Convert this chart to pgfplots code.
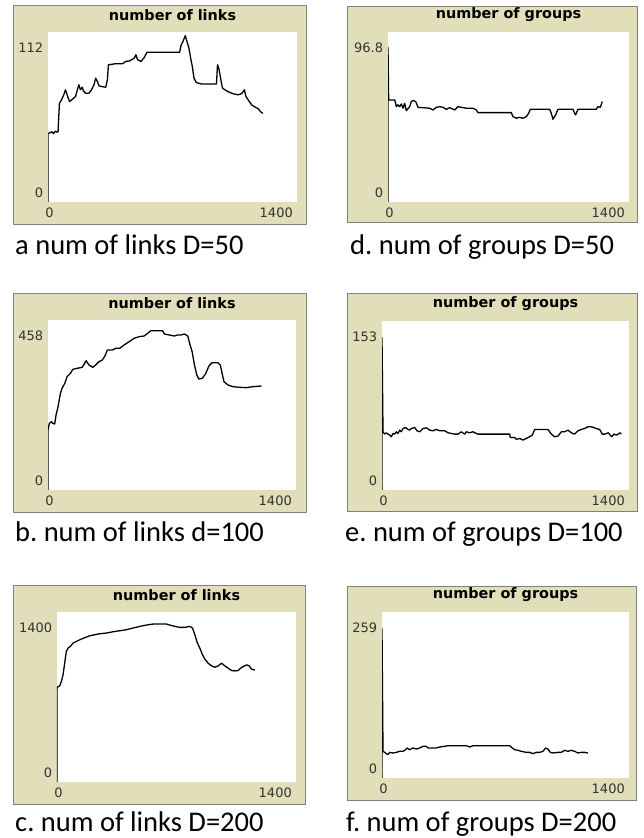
\documentclass[border=0pt]{standalone}
\usepackage{fontspec}
\usepackage{pgfplots}
\pgfplotsset{compat=1.18}
\usepackage{pgfplotstable}
\newfontfamily\nlfont{DejaVu Sans}
\newfontfamily\capfont{Carlito}
\definecolor{khaki}{RGB}{224,223,185}
\definecolor{framegray}{RGB}{128,128,128}
\definecolor{ticktext}{RGB}{51,51,51}
\frenchspacing

\pgfplotstableread{
x y
0 0
0 45.2
10 45.5
22.6 46.3
30 45.0
41.5 46.7
50 46.0
56.6 46.3
60 55
64.2 65.0
75 67
88.7 70.6
98.1 73.9
107.6 70.6
120.8 66.2
135 67.5
154.7 69.5
168 75.0
173.6 77.2
182 74
192.5 75.6
200 73
211.3 71.7
230.2 71.7
245 74
258.5 77.2
268 81.6
277.4 79.4
286.8 76.5
305 76
324.6 75.6
334 80.5
339.7 90.4
380 91.1
418.9 91.1
437.8 92.6
460 93
485 94.8
494.4 97.0
503.8 93.7
522.7 92.6
540 95
556.7 98.6
739.7 98.6
749.1 103.6
760 106
771.8 109.6
781.2 105.8
792.5 101.4
802 94.8
811.4 89.3
820.8 81.6
834 78.7
860 77.8
947.3 77.8
953 90.4
962.4 87.1
971.8 80.5
981.2 75.0
1000 73.5
1022.8 72.1
1045 71.2
1070 70.6
1090 71.5
1104 73.9
1113.3 69.5
1130 66.5
1145.4 63.9
1165 62.5
1183.1 61.3
1195 59.5
1207.7 58.4
}\linksA

\pgfplotstableread{
x y
0 0
0 88.0
3.9 58.1
38.7 58.1
44.5 56.2
48.4 54.3
58.1 55.3
67.8 54.3
77.4 55.8
87.1 53.4
96.8 56.2
106.5 52.0
125.8 54.3
135.5 57.2
145.2 57.8
160.7 57.2
174.2 53.9
242 53.4
261.4 52.4
280.7 53.9
300.1 54.3
319.4 53.9
338.8 52.8
358.2 53.7
387.2 52.4
406.6 54.3
425.9 53.9
455 53.4
493.7 53.4
513 52.4
522.7 50.9
716.3 50.9
726 48.6
745.4 47.7
764.7 48.2
784.1 47.7
803.4 48.6
817 50.5
826.7 52.8
939 52.8
948.6 50.5
958.3 47.1
973.8 49.6
987.4 52.8
1074.5 52.8
1084.2 50.5
1090 49.6
1103.6 52.8
1210 52.8
1219.7 54.3
1233.3 53.9
1244.9 57.2
}\groupsD

\pgfplotstableread{
x y
0 0
0 161.6
7.6 179.6
18.9 184.1
26.5 179.6
37.8 177.8
45.4 202
56.8 224.5
70 260.4
79.5 273.9
94.6 287.4
107.8 305.3
126.8 314.3
140 325
164.6 327.8
193 330.5
215.7 348.4
230.8 336.8
253.5 330.5
268.7 336.8
287.6 345.7
306.5 350.2
321.6 361
334.9 377.2
363.3 377.2
382.2 381.7
404.9 381.7
429.5 390.6
457.9 399.6
486.2 408.6
514.6 413.1
543 414.9
561.9 422
580.8 429.2
609.2 429.2
647.1 429.2
656.5 420.3
684.9 417.6
713.3 414.9
732.2 417.6
751.1 417.6
770 420.3
789 414.9
802.2 390.6
813.6 372.7
826.8 336.8
840 309.8
851.4 299
870.3 300.8
889.2 312.5
908.2 334
927 343
959.2 343
972.5 336.8
983.8 312.5
993.3 291.9
1016 282.9
1044.4 278.4
1082.2 276.6
1120 275.7
1157.9 278.4
1205.2 280.2
}\linksB

\pgfplotstableread{
x y
0 0
0 137.9
5.7 52.7
15.1 50.6
24.6 51.8
34 50.6
43.4 49.7
52.9 48.2
62.3 51.2
71.8 50.6
81.2 52.7
90.7 51.2
100.1 54.2
109.6 52.7
119 55.7
134.1 56.6
147.3 54.8
156.8 54.2
166.2 55.7
185.1 56.6
198.3 53.6
213.5 52.7
232.3 55.7
251.2 56.3
270.1 54.2
289 53.6
307.9 54.8
326.8 53.6
355.1 53.6
374 51.8
392.9 51.2
411.8 50.6
430.7 50.6
449.6 52.7
468.5 50.6
477.9 52.7
496.8 51.8
515.7 52.7
534.6 51.2
544 50.6
723.5 50.6
727.3 47.6
751.8 47.6
761.3 45.8
780.2 46.7
799 45.2
817.9 46.7
836.8 48.2
851.9 49.7
865.2 54.8
940.7 54.8
959.7 50.6
978.5 48.2
997.4 48.8
1016.3 52.7
1035.2 52.7
1054 54.2
1073 51.8
1091.8 50.6
1110.7 53.6
1129.6 54.8
1148.5 55.7
1167.4 57.2
1186.3 57.2
1199.5 56.6
1212.5 55.7
1233.5 54.8
1248.6 50.6
1263.8 50.6
1282.6 51.8
1301.5 48.2
1314.9 50.6
1330 49.7
1348.9 51.8
1356.3 50.6
}\groupsE

\pgfplotstableread{
x y
0 0
0 771.7
5.9 785.5
15.6 791
25.4 826.8
35.2 881.9
45 978.4
54.7 1074.8
64.5 1102.4
78.2 1116.2
93.8 1143.7
113.4 1157.5
132.9 1171.3
152.5 1182.3
172 1193.3
191.6 1204.4
220.9 1212.6
250.2 1220.9
289.3 1226.4
328.4 1237.4
367.5 1245.7
406.6 1254
445.7 1267.8
484.8 1281.5
523.9 1292.6
563 1300.8
602.1 1300.8
641.2 1300.8
660.8 1292.6
690.1 1281.5
719.4 1273.3
748.8 1273.3
778.1 1281.5
793.7 1267.8
807.4 1212.6
821.1 1149.2
836.7 1102.4
852.4 1047.3
866.1 1011.5
885.6 978.4
905.2 956.3
924.7 945.3
944.3 956.3
963.8 978.4
983.4 956.3
1002.9 937
1022.5 917.7
1042 915
1061.6 917.7
1075.3 937
1090.9 950.8
1110.5 964.6
1126.1 956.3
1139.8 928.8
1159.4 923.3
}\linksC

\pgfplotstableread{
x y
0 0
0 233
5.7 41.6
15.1 40
24.6 38
34 36.4
43.4 40
62.3 39
81.2 40
100.1 41.6
119 41.6
134.1 44.2
141.7 46.8
156.8 44.2
175.7 46.8
194.6 45.2
213.5 46.8
232.3 49.4
251.2 49.4
260.7 46.8
289 46.8
307.9 46.8
326.8 48.4
355.1 49.4
374 50.4
421.2 50.4
477.9 50.4
496.8 48.4
515.7 50.4
572.4 50.4
648 50.4
723.5 50.4
738.6 46.8
751.8 44.2
770.7 43.2
789.6 41.6
817.9 40
836.8 40
855.7 38
874.6 40
893.5 40
912.4 41.6
927.5 46.8
940.7 45.2
953.9 40
969 39
997.4 40
1016.3 40
1035.2 43.2
1054 41.6
1073 43.2
1091.8 41.6
1110.7 39
1129.6 40
1148.5 40
1167.4 39
}\groupsF

\pgfplotsset{
  nl/.style={
    scale only axis,
    anchor=south west,
    xmin=0, xmax=1400, ymin=0,
    axis line style={draw=none},
    major tick length=0pt,
    axis background/.style={fill=white},
    tick label style={font=\nlfont\fontsize{13}{13}\selectfont, text=ticktext, inner sep=0pt},
    xtick={0}, xticklabels={0},
    xticklabel style={anchor=center, yshift=-11pt, xshift=1.5pt},
    extra x ticks={1400}, extra x tick labels={1400},
    extra x tick style={xticklabel style={anchor=east, xshift=-5.5pt}},
    ytick={0}, yticklabels={0},
    yticklabel style={anchor=east, xshift=-4.7pt, yshift=9pt},
    extra y tick style={yticklabel style={yshift=-25pt}},
    title style={font=\nlfont\bfseries\fontsize{14.4}{14.4}\selectfont, at={(0.5,1)}, anchor=center, yshift=11pt},
  },
  nlline/.style={black, line width=1.3pt, line join=round, no marks},
}

\newcommand{\nlframe}[4]{%
  \fill[khaki] (#1pt,#2pt) rectangle (#3pt,#4pt);
  \draw[framegray, line width=1pt] (#1pt,#2pt) rectangle (#3pt,#4pt);
}

\begin{document}
\begin{tikzpicture}
\useasboundingbox (0,0) rectangle (644pt,838pt);
\nlframe{13}{613}{306}{832}
\nlframe{347}{615}{637}{831}
\nlframe{13}{325}{306}{544}
\nlframe{347}{326}{637}{544}
\nlframe{13}{33}{305}{252}
\nlframe{347}{37}{636}{251}

% a
\begin{axis}[nl, at={(48pt,636pt)}, width=249pt, height=170pt, ymax=112,
  extra y ticks={112}, extra y tick labels={112}, title={number of links}]
\addplot[nlline] table[x=x,y=y] {\linksA};
\end{axis}
% d
\begin{axis}[nl, at={(388pt,636pt)}, width=241pt, height=170pt, ymax=96.8,
  extra y ticks={96.8}, extra y tick labels={96.8}, title={number of groups}]
\addplot[nlline] table[x=x,y=y] {\groupsD};
\end{axis}
% b
\begin{axis}[nl, at={(48pt,348pt)}, width=248pt, height=170pt, ymax=458,
  extra y ticks={458}, extra y tick labels={458}, title={number of links}]
\addplot[nlline] table[x=x,y=y] {\linksB};
\end{axis}
% e
\begin{axis}[nl, at={(382pt,348pt)}, width=247pt, height=169pt, ymax=153,
  extra y ticks={153}, extra y tick labels={153}, title={number of groups}]
\addplot[nlline] table[x=x,y=y] {\groupsE};
\end{axis}
% c
\begin{axis}[nl, at={(57pt,56pt)}, width=239pt, height=170pt, ymax=1400,
  extra y ticks={1400}, extra y tick labels={1400}, title={number of links}]
\addplot[nlline] table[x=x,y=y] {\linksC};
\end{axis}
% f
\begin{axis}[nl, at={(382pt,60pt)}, width=247pt, height=166pt, ymax=259,
  extra y ticks={259}, extra y tick labels={259}, title={number of groups}]
\addplot[nlline] table[x=x,y=y] {\groupsF};
\end{axis}

\begin{scope}[every node/.style={anchor=base west, inner sep=0pt, font=\capfont\fontsize{28.5}{28.5}\selectfont}]
\node at (15pt,583.3pt) {a num of links D=50};
\node at (350pt,583.3pt) {d. num of groups D=50};
\node at (15pt,296.5pt) {b. num of links d=100};
\node at (345pt,296.5pt) {e. num of groups D=100};
\node at (15pt,6pt) {c. num of links D=200};
\node at (346pt,6pt) {f. num of groups D=200};
\end{scope}
\end{tikzpicture}
\end{document}
